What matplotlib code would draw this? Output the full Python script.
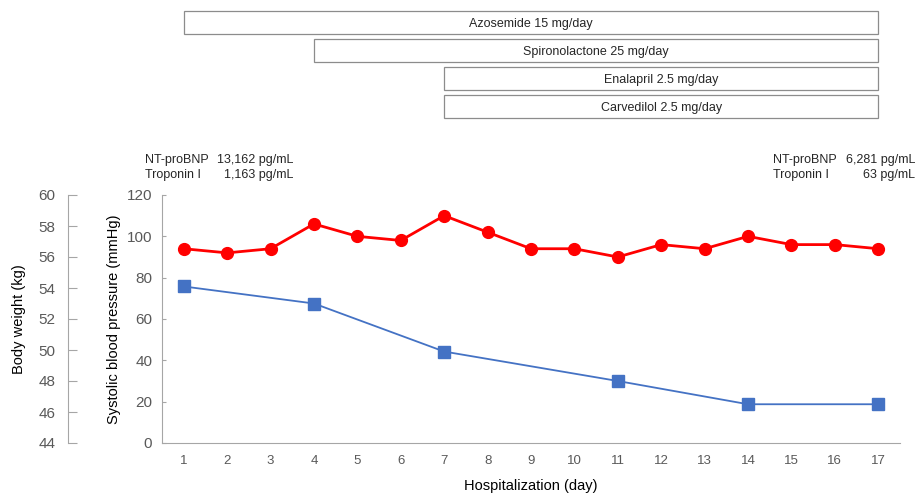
import matplotlib.pyplot as plt
import matplotlib.transforms as mtransforms

plt.rcParams['font.family'] = ['Liberation Sans', 'DejaVu Sans']

days = list(range(1, 18))
sbp = [94, 92, 94, 106, 100, 98, 110, 102, 94, 94, 90, 96, 94, 100, 96, 96, 94]
bw_days = [1, 4, 7, 11, 14, 17]
bw = [54.1, 53.0, 49.9, 48.0, 46.5, 46.5]

drugs = ['Azosemide 15 mg/day', 'Spironolactone 25 mg/day',
         'Enalapril 2.5 mg/day', 'Carvedilol 2.5 mg/day']
drug_start = [1, 4, 7, 7]
drug_end = [17, 17, 17, 17]

labs_left = [('NT-proBNP', '13,162 pg/mL'), ('Troponin I', '1,163 pg/mL')]
labs_right = [('NT-proBNP', '6,281 pg/mL'), ('Troponin I', '63 pg/mL')]

grey = '#595959'
spine = '#A6A6A6'
W, H = 918, 495

fig = plt.figure(figsize=(9.18, 4.95), dpi=100)
ax = fig.add_axes([162 / W, 1 - 443 / H, (900 - 162) / W, (443 - 195) / H])

# systolic blood pressure (inner axis)
ax.plot(days, sbp, color='#FF0000', marker='o', markersize=8.5, linewidth=2, zorder=5)
ax.set_xlim(0.5, 17.5)
ax.set_ylim(0, 120)
ax.set_yticks(range(0, 121, 20))
ax.set_xticks(days)
for s in ['top', 'right']:
    ax.spines[s].set_visible(False)
for s in ['left', 'bottom']:
    ax.spines[s].set_color(spine)
ax.tick_params(axis='y', direction='in', length=3, color=spine, labelsize=11, labelcolor=grey, pad=7)
ax.tick_params(axis='x', length=0, labelsize=9.5, labelcolor=grey, pad=9)
ax.set_ylabel('Systolic blood pressure (mmHg)', fontsize=10.5, color='black', labelpad=4)
ax.set_xlabel('Hospitalization (day)', fontsize=10.5, color='black', labelpad=8)

# body weight (outer axis)
ax2 = ax.twinx()
ax2.plot(bw_days, bw, color='#4472C4', marker='s', markersize=8, linewidth=1.3, zorder=4)
ax2.set_ylim(44, 60)
ax2.set_yticks(range(44, 61, 2))
ax2.yaxis.set_label_position('left')
ax2.yaxis.set_ticks_position('left')
ax2.spines['left'].set_position(('outward', 94 * 0.72))
ax2.spines['left'].set_color(spine)
for s in ['top', 'right', 'bottom']:
    ax2.spines[s].set_visible(False)
ax2.tick_params(axis='y', direction='in', length=6.5, color=spine, labelsize=11, labelcolor=grey, pad=9)
ax2.set_ylabel('Body weight (kg)', fontsize=10.5, color='black', labelpad=9)

# drug bars above the plot
trans = mtransforms.blended_transform_factory(ax.transData, fig.transFigure)
box_tops = [11, 39, 67, 95]
box_h = 23
for name, s, e, top in zip(drugs, drug_start, drug_end, box_tops):
    y0 = 1 - (top + box_h) / H
    rect = plt.Rectangle((s, y0), e - s, box_h / H, transform=trans, fill=False,
                         edgecolor='#8C8C8C', linewidth=0.9, clip_on=False)
    fig.add_artist(rect)
    fig.text((s + e) / 2, y0 + box_h / H / 2, name, transform=trans, ha='center',
             va='center_baseline', fontsize=9, color='#262626')

# lab values
for i, (lab, val) in enumerate(labs_left):
    y = 1 - (160 + 15 * i) / H
    fig.text(145 / W, y, lab, ha='left', va='center', fontsize=9, color='#262626')
    fig.text(293 / W, y, val, ha='right', va='center', fontsize=9, color='#262626')
for i, (lab, val) in enumerate(labs_right):
    y = 1 - (160 + 15 * i) / H
    fig.text(773 / W, y, lab, ha='left', va='center', fontsize=9, color='#262626')
    fig.text(915 / W, y, val, ha='right', va='center', fontsize=9, color='#262626')

fig.savefig('out.png', dpi=100)
